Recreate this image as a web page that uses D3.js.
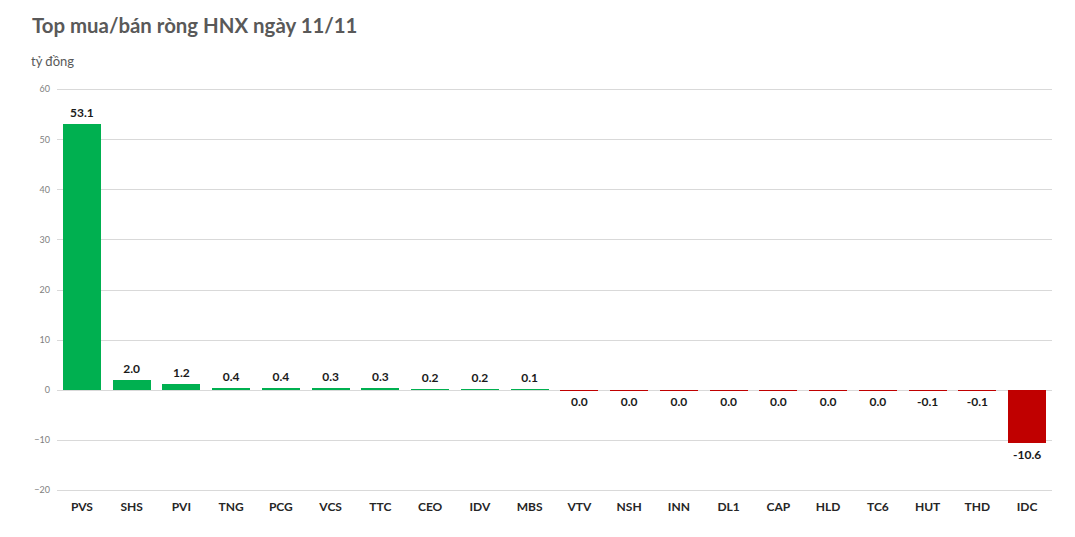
<!DOCTYPE html>
<html lang="vi">
<head>
<meta charset="utf-8">
<title>Top mua/bán ròng HNX ngày 11/11</title>
<style>
body { margin: 0; background: #fff; }
#chart text { font-family: Lato, "Open Sans", sans-serif; }
.grid line { stroke: #d9d9d9; stroke-width: 1; shape-rendering: crispEdges; }
.grid path { display: none; }
.yaxis text { fill: #7f7f7f; font-size: 9px; }
.yaxis path, .yaxis line { display: none; }
.xaxis text { fill: #262626; font-size: 12px; font-weight: bold; }
.xaxis path, .xaxis line { display: none; }
.bar { shape-rendering: crispEdges; }
.val { fill: #1a1a1a; font-size: 12px; font-weight: bold; text-anchor: middle; }
</style>
</head>
<body>
<div id="chart"></div>
<script src="https://d3js.org/d3.v7.min.js"></script>
<script>

var tickers = ['PVS', 'SHS', 'PVI', 'TNG', 'PCG', 'VCS', 'TTC', 'CEO', 'IDV', 'MBS',
               'VTV', 'NSH', 'INN', 'DL1', 'CAP', 'HLD', 'TC6', 'HUT', 'THD', 'IDC'];
var netValues = [53.1, 2.0, 1.2, 0.4, 0.4, 0.3, 0.26, 0.2, 0.2, 0.1,
                 -0.04, -0.04, -0.04, -0.04, -0.04, -0.04, -0.04, -0.1, -0.1, -10.6];
var yTicks = [-20, -10, 0, 10, 20, 30, 40, 50, 60];

var W = 1075, H = 537;
var plotL = 57, plotR = 1052, plotT = 89, plotB = 490;

var svg = d3.select('#chart').append('svg')
  .attr('width', W)
  .attr('height', H);

var x = d3.scaleBand()
  .domain(tickers)
  .range([plotL, plotR])
  .paddingInner(0.236)
  .paddingOuter(0.118);

var y = d3.scaleLinear()
  .domain([-20, 60])
  .range([plotB, plotT]);

// title + unit
svg.append('text')
  .attr('x', 32).attr('y', 33)
  .style('font-size', '20.4px').style('font-weight', 'bold')
  .style('fill', '#595959')
  .text('Top mua/bán ròng HNX ngày 11/11');
svg.append('text')
  .attr('x', 31).attr('y', 66)
  .style('font-size', '13px')
  .style('fill', '#595959')
  .text('tỷ đồng');

// gridlines
svg.append('g')
  .attr('class', 'grid')
  .attr('transform', 'translate(' + plotL + ',0)')
  .call(d3.axisRight(y).tickValues(yTicks).tickSize(plotR - plotL).tickFormat(''));

svg.append('g')
  .attr('class', 'yaxis')
  .attr('transform', 'translate(' + (plotL - 7) + ',0)')
  .call(d3.axisLeft(y).tickValues(yTicks).tickSize(0).tickPadding(0));

// bars (negative ones hang below the zero line, at least one pixel tall like the original)
var y0 = Math.round(y(0));
svg.selectAll('rect.bar')
  .data(tickers)
  .enter()
  .append('rect')
  .attr('class', 'bar')
  .attr('x', function(d) { return Math.round(x(d)); })
  .attr('width', Math.round(x.bandwidth()))
  .attr('y', function(d, i) { return netValues[i] >= 0 ? Math.round(y(netValues[i])) : y0; })
  .attr('height', function(d, i) {
    var h = Math.abs(Math.round(y(netValues[i])) - y0);
    return netValues[i] < 0 ? Math.max(1, h) : h;
  })
  .style('fill', function(d, i) { return netValues[i] >= 0 ? '#00b050' : '#c00000'; });

// value labels
svg.selectAll('text.val')
  .data(tickers)
  .enter()
  .append('text')
  .attr('class', 'val')
  .attr('x', function(d) { return x(d) + x.bandwidth() / 2; })
  .attr('y', function(d, i) {
    var v = netValues[i];
    return v >= 0 ? y(v) - 7 : y(v) + 16;
  })
  .text(function(d, i) {
    var s = d3.format('.1f')(Math.abs(netValues[i]));
    return (netValues[i] < 0 && s !== '0.0' ? '-' : '') + s;
  });

// category axis
svg.append('g')
  .attr('class', 'xaxis')
  .attr('transform', 'translate(0,' + (plotB + 7) + ')')
  .call(d3.axisBottom(x).tickSize(0).tickPadding(5));
</script>
</body>
</html>
